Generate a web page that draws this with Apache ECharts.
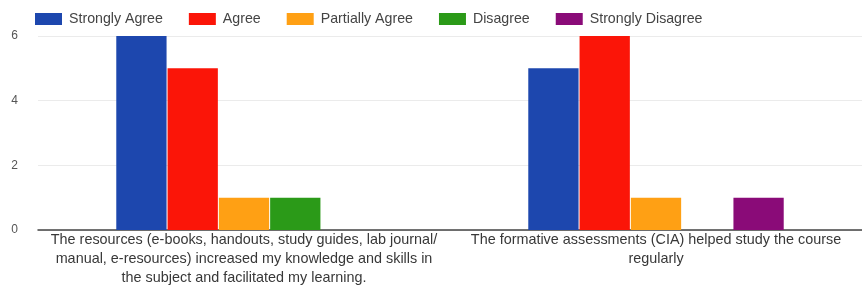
<!DOCTYPE html>
<html><head><meta charset="utf-8">
<script src="https://cdn.jsdelivr.net/npm/echarts@6/dist/echarts.min.js"></script>
<style>html,body{margin:0;padding:0;background:#fff}#c{width:862px;height:288px}</style>
</head><body><div id="c"></div>
<script>
const categories = [
  "The resources (e-books, handouts, study guides, lab journal/\nmanual, e-resources) increased my knowledge and skills in\nthe subject and facilitated my learning.",
  "The formative assessments (CIA) helped study the course\nregularly"
];
const seriesNames = ["Strongly Agree", "Agree", "Partially Agree", "Disagree", "Strongly Disagree"];
const stronglyAgree = [6, 5];
const agree = [5, 6];
const partiallyAgree = [1, 1];
const disagree = [1, 0];
const stronglyDisagree = [0, 1];
const yTicks = [0, 2, 4, 6];
const colors = ["#1d47ae", "#fb1508", "#ffa014", "#2b9a18", "#8a0b78"];

const values = [stronglyAgree, agree, partiallyAgree, disagree, stronglyDisagree];
const chart = echarts.init(document.getElementById('c'), null, {renderer: 'canvas'});
chart.setOption({
  animation: false,
  textStyle: {fontFamily: "Liberation Sans"},
  legend: {
    top: 7, left: 30,
    itemWidth: 27, itemHeight: 12, itemGap: 26,
    icon: 'rect',
    textStyle: {fontSize: 14.2, color: '#444', fontFamily: "Liberation Sans", padding: [0,0,0,2]},
    data: seriesNames
  },
  grid: {left: 38, right: 0, top: 36, bottom: 58},
  xAxis: {
    type: 'category', data: categories,
    axisTick: {show: false},
    axisLine: {lineStyle: {color: '#444', width: 1.5}},
    axisLabel: {fontSize: 14.4, color: '#383838', lineHeight: 19, margin: 1, interval: 0, align: 'center'}
  },
  yAxis: {
    type: 'value', min: yTicks[0], max: yTicks[yTicks.length-1], interval: 2,
    axisLabel: {fontSize: 12, color: '#555', margin: 20},
    splitLine: {lineStyle: {color: '#ebebeb'}},
    axisLine: {show: false}, axisTick: {show: false}
  },
  series: seriesNames.map((n, i) => ({
    name: n, type: 'bar', data: values[i],
    barGap: '2%', barCategoryGap: '38%',
    itemStyle: {color: colors[i]}
  }))
});
</script></body></html>
